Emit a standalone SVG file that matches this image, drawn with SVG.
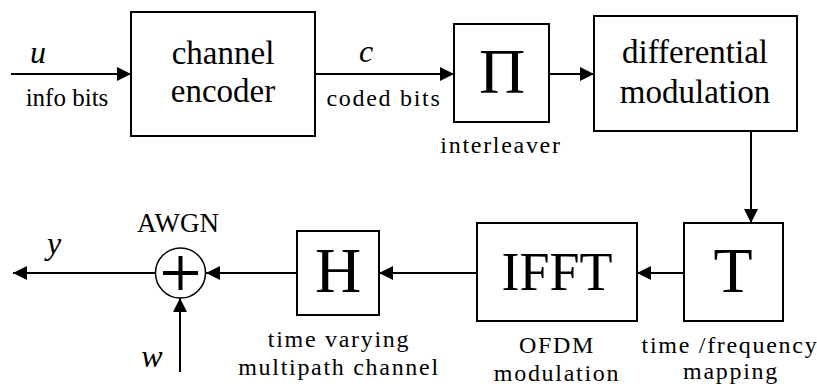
<svg xmlns="http://www.w3.org/2000/svg" width="817" height="387" viewBox="0 0 817 387">
<defs>
<marker id="ah" markerWidth="14" markerHeight="14" refX="14" refY="7" orient="auto" markerUnits="userSpaceOnUse">
<path d="M0,0 L14,7 L0,14 Z" fill="#000"/>
</marker>
<style>
.box{fill:#fff;stroke:#000;stroke-width:2}
.ln{fill:none;stroke:#000;stroke-width:2;marker-end:url(#ah)}
.t{font-family:"Liberation Serif","Times New Roman",serif;fill:#000;text-anchor:middle}
.big{font-size:33px}
.sym{font-size:64px}
.lbl{font-size:25px}
.sp{font-size:24px;letter-spacing:1.7px}
.it{font-style:italic;font-size:32px}
</style>
</defs>
<g id="connectors">
<line class="ln" x1="11" y1="74" x2="131" y2="74"/>
<line class="ln" x1="315" y1="74" x2="454" y2="74"/>
<line class="ln" x1="549" y1="74" x2="594" y2="74"/>
<line class="ln" x1="751" y1="131" x2="751" y2="223"/>
<line class="ln" x1="684" y1="273" x2="637" y2="273"/>
<line class="ln" x1="477" y1="273" x2="379" y2="273"/>
<line class="ln" x1="297" y1="273" x2="206" y2="273"/>
<line class="ln" x1="155" y1="273" x2="13" y2="273"/>
<line class="ln" x1="180" y1="372" x2="180" y2="298"/>
</g>
<g id="input">
<text class="t it" x="38" y="63">u</text>
<text class="t lbl" x="67" y="106">info bits</text>
</g>
<g id="encoder">
<rect class="box" x="131" y="12" width="184" height="124"/>
<text class="t big" x="223" y="64">channel</text>
<text class="t big" x="223" y="102">encoder</text>
</g>
<g id="coded">
<text class="t it" x="366" y="62">c</text>
<text class="t sp" x="384" y="106">coded bits</text>
</g>
<g id="interleaver">
<rect class="box" x="454" y="24" width="95" height="98"/>
<text class="t sym" x="502" y="93">Π</text>
<text class="t sp" x="501" y="153">interleaver</text>
</g>
<g id="diffmod">
<rect class="box" x="594" y="16" width="203" height="115"/>
<text class="t big" x="695" y="63">differential</text>
<text class="t big" x="695" y="103">modulation</text>
</g>
<g id="mapping">
<rect class="box" x="684" y="223" width="99" height="98"/>
<text class="t sym" x="733" y="292">T</text>
<text class="t sp" x="730" y="353">time /frequency</text>
<text class="t sp" x="731" y="379">mapping</text>
</g>
<g id="ifft">
<rect class="box" x="477" y="223" width="160" height="98"/>
<text class="t" style="font-size:54px" x="557" y="290">IFFT</text>
<text class="t sp" x="557" y="353">OFDM</text>
<text class="t sp" x="557" y="381">modulation</text>
</g>
<g id="channel">
<rect class="box" x="297" y="231" width="82" height="84"/>
<text class="t sym" x="338" y="292">H</text>
<text class="t sp" x="339" y="347">time varying</text>
<text class="t sp" x="339" y="375">multipath channel</text>
</g>
<g id="awgn">
<circle cx="180.5" cy="273" r="25" fill="#fff" stroke="#000" stroke-width="1.5"/>
<path d="M163,273 H198 M180.5,256 V290" stroke="#000" stroke-width="4" fill="none"/>
<text class="t" style="font-size:27px" x="178" y="232">AWGN</text>
</g>
<g id="output">
<text class="t it" x="54" y="254">y</text>
<text class="t it" x="152" y="367">w</text>
</g>
</svg>
